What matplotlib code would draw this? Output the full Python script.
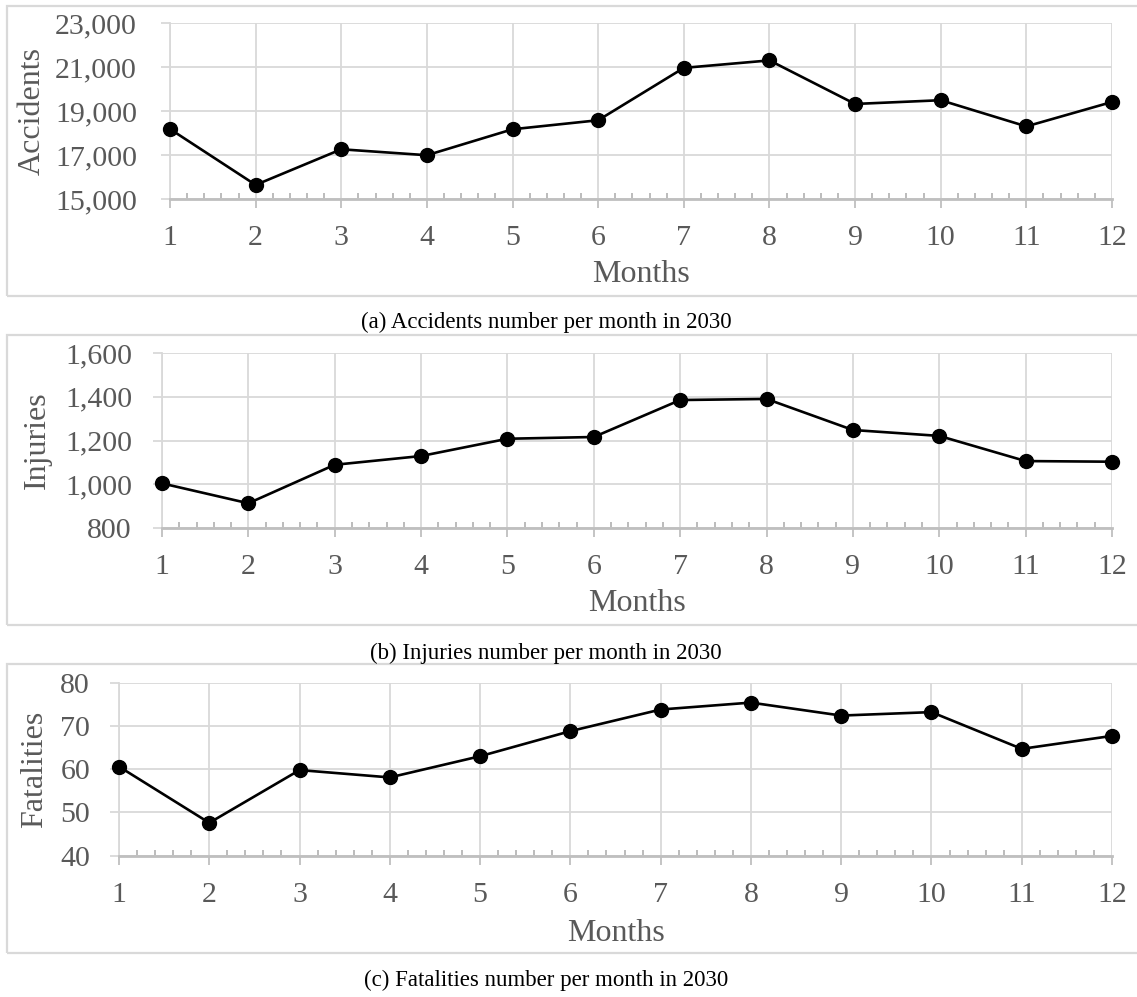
import matplotlib
matplotlib.use("Agg")
import matplotlib.pyplot as plt
from matplotlib.patches import Rectangle
from matplotlib.ticker import MultipleLocator, FuncFormatter
import numpy as np

plt.rcParams['font.family'] = ['Liberation Serif', 'DejaVu Serif']

months = list(range(1, 13))
accidents = [18180, 15640, 17260, 16990, 18170, 18580, 20960, 21300, 19320, 19490, 18300, 19410]
injuries = [1004, 913, 1089, 1129, 1208, 1216, 1385, 1390, 1248, 1221, 1106, 1103]
fatalities = [60.6, 47.6, 59.8, 58.1, 63.0, 68.8, 73.8, 75.4, 72.4, 73.2, 64.7, 67.7]

ylabels = ["Accidents", "Injuries", "Fatalities"]
captions = ["(a) Accidents number per month in 2030",
            "(b) Injuries number per month in 2030",
            "(c) Fatalities number per month in 2030"]
yticks_list = [[15000, 17000, 19000, 21000, 23000],
               [800, 1000, 1200, 1400, 1600],
               [40, 50, 60, 70, 80]]

W, H = 1137, 997
fig = plt.figure(figsize=(W / 100, H / 100), dpi=100)

def fx(x):
    return x / W

def fy(y):
    return 1 - y / H

layouts = [
    dict(left=170, top=23, bottom=199, btop=6, bbot=296, cap=322, ylx=32, xly=275, ypad=24),
    dict(left=162, top=353, bottom=528, btop=335, bbot=625, cap=653, ylx=37, xly=603, ypad=21),
    dict(left=119, top=682.7, bottom=855.7, btop=664, bbot=953, cap=980, ylx=35, xly=933, ypad=20),
]
right = 1112
series = [accidents, injuries, fatalities]

grid_c = '#d9d9d9'
axis_c = '#bfbfbf'
text_c = '#595959'
tick_fs = 21.5
label_fs = 23
px2pt = 0.72

for i, L in enumerate(layouts):
    fig.patches.append(Rectangle((fx(7), fy(L['bbot'])), fx(1145 - 7), (L['bbot'] - L['btop']) / H,
                                 transform=fig.transFigure, fill=False, edgecolor=grid_c, linewidth=1.6))
    ax = fig.add_axes([fx(L['left']), fy(L['bottom']), fx(right - L['left']), (L['bottom'] - L['top']) / H])
    ax.set_facecolor('none')
    yt = yticks_list[i]
    ax.set_xlim(1, 12)
    ax.set_ylim(yt[0], yt[-1])
    ax.set_xticks(months)
    ax.set_yticks(yt)
    ax.xaxis.set_minor_locator(MultipleLocator(0.2))
    if i < 2:
        ax.yaxis.set_major_formatter(FuncFormatter(lambda v, p: f"{int(v):,}"))
    ax.grid(True, which='major', color=grid_c, linewidth=1.3)
    ax.set_axisbelow(True)
    for s in ['top', 'right']:
        ax.spines[s].set_visible(False)
    ax.spines['left'].set_color(grid_c)
    ax.spines['left'].set_linewidth(1.3)
    ax.spines['bottom'].set_color(axis_c)
    ax.spines['bottom'].set_linewidth(2.0)
    ax.tick_params(axis='x', which='major', direction='out', length=9 * px2pt, width=1.3,
                   color=axis_c, labelsize=tick_fs, labelcolor=text_c, pad=17 * px2pt)
    ax.tick_params(axis='x', which='minor', direction='in', length=6 * px2pt, width=1.2,
                   color='#b0b0b0')
    ax.tick_params(axis='y', which='major', direction='out', length=9 * px2pt, width=1.3,
                   color=grid_c, labelsize=tick_fs, labelcolor=text_c, pad=L['ypad'] * px2pt)
    ax.tick_params(axis='y', which='minor', left=False)
    ax.plot(months, series[i], color='black', linewidth=1.9, marker='o', markersize=10,
            clip_on=False, zorder=5)
    axw = right - L['left']
    axh = L['bottom'] - L['top']
    ax.set_ylabel(ylabels[i], fontsize=label_fs, color=text_c, va='center')
    ax.yaxis.set_label_coords((L['ylx'] - L['left']) / axw, 0.5)
    ax.set_xlabel("Months", fontsize=label_fs, color=text_c, va='center')
    ax.xaxis.set_label_coords(0.5, (L['bottom'] - L['xly']) / axh)
    fig.text(fx(546), fy(L['cap']), captions[i], ha='center', va='center', fontsize=16.5, color='black')

fig.savefig("out.png", dpi=100)
